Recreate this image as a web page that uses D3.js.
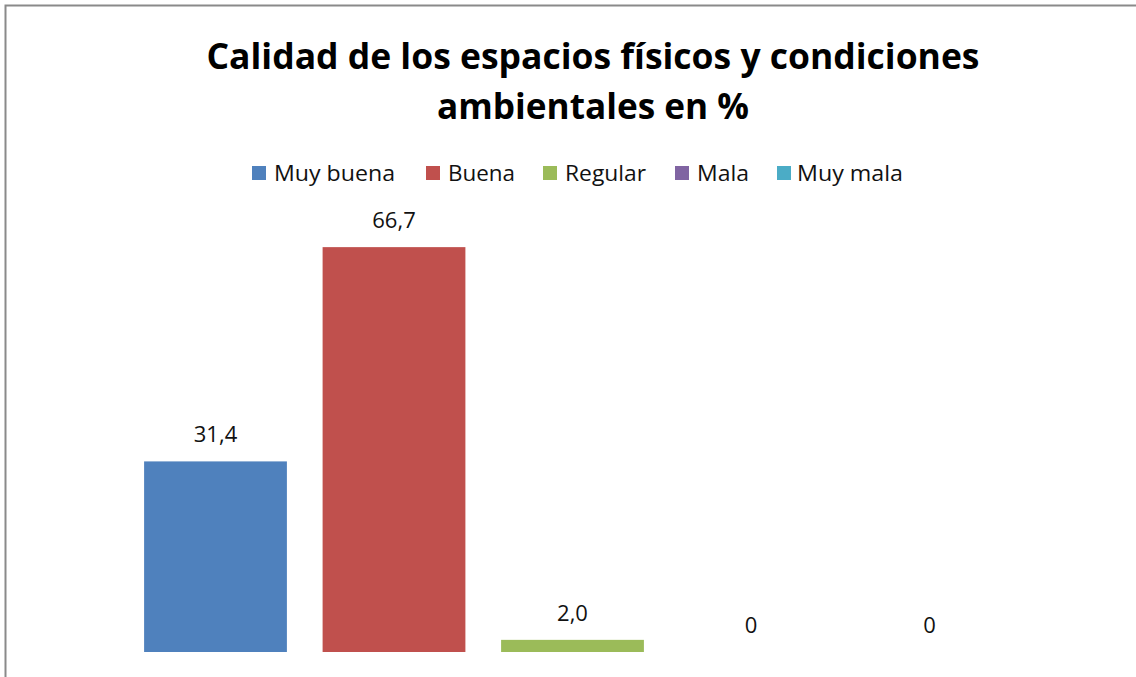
<!DOCTYPE html>
<html>
<head>
<meta charset="utf-8">
<script src="https://cdn.jsdelivr.net/npm/d3@7"></script>
<style>
  body { margin: 0; background: #fff; overflow: hidden; }
  svg { display: block; overflow: hidden; }
</style>
</head>
<body>
<div id="chart"></div>
<script>
// chart data
var categories = ['Muy buena', 'Buena', 'Regular', 'Mala', 'Muy mala'];
var values = [31.4, 66.7, 2.0, 0, 0];
var labels = ['31,4', '66,7', '2,0', '0', '0'];
var colors = ['#4F81BD', '#C0504D', '#9BBB59', '#8064A2', '#4BACC6'];
var titleLines = ['Calidad de los espacios físicos y condiciones', 'ambientales en %'];

var width = 1136, height = 677;
var font = 'Open Sans, Noto Sans, sans-serif';

var svg = d3.select('#chart').append('svg')
  .attr('width', width)
  .attr('height', height);

// chart frame (continues past the right/bottom edge)
svg.append('rect')
  .attr('x', 5.5).attr('y', 5.5)
  .attr('width', width + 40).attr('height', height + 40)
  .attr('fill', '#fff')
  .attr('stroke', '#8a8a8a')
  .attr('stroke-width', 2);

// title
var titleW = [773, 312];
svg.selectAll('text.title')
  .data(titleLines)
  .enter()
  .append('text')
  .attr('class', 'title')
  .attr('x', 593)
  .attr('y', (d, i) => 69 + i * 50)
  .attr('text-anchor', 'middle')
  .attr('textLength', (d, i) => titleW[i])
  .attr('lengthAdjust', 'spacingAndGlyphs')
  .style('font-family', font)
  .style('font-weight', 'bold')
  .style('font-size', '35px')
  .text(d => d);

// scales
var x = d3.scaleBand()
  .domain(categories)
  .range([126.25, 1018.75])
  .paddingInner(0.2)
  .paddingOuter(0.1);

var y = d3.scaleLinear()
  .domain([0, 70])
  .range([652, 652 - 70 * 6.07]);

var plot = svg.append('g');

plot.selectAll('rect.bar')
  .data(categories)
  .enter()
  .append('rect')
  .attr('class', 'bar')
  .attr('x', d => x(d))
  .attr('y', (d, i) => y(values[i]))
  .attr('width', x.bandwidth())
  .attr('height', (d, i) => y(0) - y(values[i]))
  .attr('fill', (d, i) => colors[i]);

plot.selectAll('text.lbl')
  .data(categories)
  .enter()
  .append('text')
  .attr('class', 'lbl')
  .attr('x', d => x(d) + x.bandwidth() / 2)
  .attr('y', (d, i) => y(values[i]) - 19)
  .attr('text-anchor', 'middle')
  .style('font-family', font)
  .style('font-size', '22px')
  .style('fill', '#111')
  .text((d, i) => labels[i]);

// legend
var legendX = [252, 426, 543, 675, 777];
var legendW = [121, 67, 81, 52, 106];
var legend = svg.append('g');
var items = legend.selectAll('g')
  .data(categories)
  .enter()
  .append('g')
  .attr('transform', (d, i) => `translate(${legendX[i]},173)`);

items.append('rect')
  .attr('x', 0).attr('y', -7)
  .attr('width', 14).attr('height', 14)
  .attr('fill', (d, i) => colors[i]);

items.append('text')
  .attr('x', (d, i) => i == 4 ? 20 : 22)
  .attr('y', 7.5)
  .attr('textLength', (d, i) => legendW[i])
  .attr('lengthAdjust', 'spacingAndGlyphs')
  .style('font-family', font)
  .style('font-size', '21px')
  .style('fill', '#111')
  .text(d => d);
</script>
</body>
</html>
